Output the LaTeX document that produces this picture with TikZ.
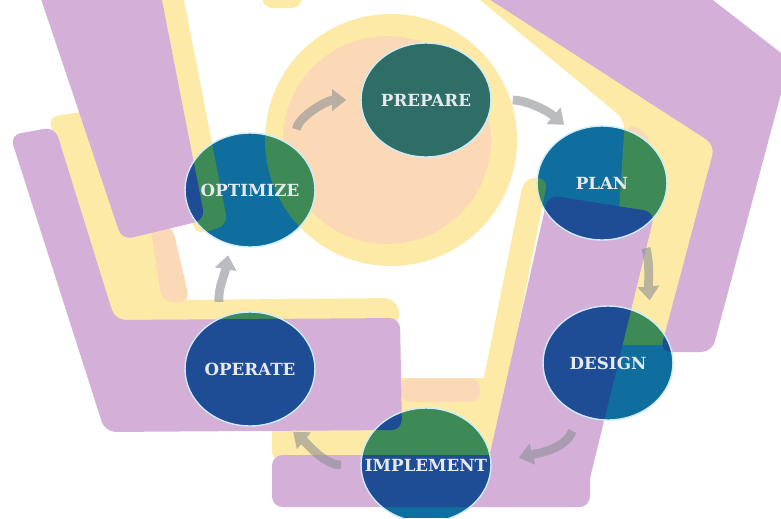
\documentclass[tikz,border=0pt]{standalone}
\usepackage{fontspec}
\newfontfamily\stagefont{DejaVu Serif}
\usetikzlibrary{shapes.geometric,arrows.meta}

\pgfdeclarelayer{bg}
\pgfdeclarelayer{tint}
\pgfsetlayers{bg,tint,main}

\definecolor{bandpurple}{HTML}{D4B0D9}
\definecolor{bandyellow}{HTML}{FDEAA6}
\definecolor{bandpeach}{HTML}{FCD9B6}
\definecolor{tintblue}{HTML}{1F4D95}
\definecolor{tintteal}{HTML}{0F6E9D}
\definecolor{tintgreen}{HTML}{3E8A57}
\definecolor{preparefill}{HTML}{2F6E67}
\definecolor{arrowgray}{HTML}{8E9096}
\definecolor{labeltext}{HTML}{E6EAEE}
\definecolor{rim}{HTML}{CDEBF8}

% Bande di sfondo: #1 giallo, #2 pesca, #3 viola
\newcommand\drawbands[3]{%
  % cerchio centrale
  \fill[#1] (391,140) circle [radius=126];
  \fill[#2] (387,140) circle [radius=104];
  \fill[#1] (262,-20) rectangle (302,8);
  % strisce gialle
  \fill[#1] (150,-10) -- (182,-10) -- (228,225) -- (195,235) -- cycle;
  \fill[#1] (48,117) -- (95,110) -- (168,240) -- (178,300) -- (395,298) -- (402,322) -- (112,322) -- cycle;
  \fill[#1] (272,378) rectangle (590,462);
  \fill[#1] (524,178) -- (548,178) -- (482,507) -- (458,507) -- cycle;
  \fill[#1] (468,-10) -- (520,-10) -- (740,140) -- (690,345) -- (610,345) -- (625,120) -- cycle;
  % accenti pesca
  \fill[#2] (150,225) -- (172,225) -- (190,302) -- (162,302) -- cycle;
  \fill[#2] (400,378) rectangle (480,402);
  \fill[#2] (628,122) -- (650,135) -- (640,240) -- (618,240) -- cycle;
  % bande viola
  \fill[#3] (38,-10) -- (160,-10) -- (205,220) -- (122,240) -- cycle;
  \fill[#3] (10,135) -- (55,127) -- (115,320) -- (400,318) -- (402,430) -- (105,432) -- cycle;
  \fill[#3] (272,455) rectangle (590,507);
  \fill[#3] (548,195) -- (655,212) -- (583,507) -- (478,507) -- cycle;
  \fill[#3] (475,-10) -- (700,-10) -- (790,60) -- (712,352) -- (660,352) -- (715,145) -- cycle;
}

\begin{document}
\begin{tikzpicture}[
    x=0.02cm, y=-0.02cm,
    % Stili
    stage/.style={ellipse, minimum width=2.6cm, minimum height=2.28cm,
      inner xsep=-18pt, inner ysep=0pt,
      draw=rim, line width=.8pt, text=labeltext,
      font=\stagefont\bfseries\fontsize{9.5}{11}\selectfont},
    flow/.style={line width=5pt, draw=arrowgray, -{Triangle[length=8pt,width=12pt]}}
  ]
  \useasboundingbox (0,0) rectangle (781,518);

  % Sfondo
  \begin{pgfonlayer}{bg}
    \fill[white] (0,0) rectangle (781,518);
    \begin{scope}[rounded corners=6pt]
      \drawbands{bandyellow}{bandpeach}{bandpurple}
    \end{scope}
  \end{pgfonlayer}

  % Nodi
  \node[stage] (prepare) at (426,100) {PREPARE};
  \node[stage] (plan) at (602,183) {PLAN};
  \node[stage] (design) at (608,363) {DESIGN};
  \node[stage] (implement) at (426,465) {IMPLEMENT};
  \node[stage] (operate) at (250,369) {OPERATE};
  \node[stage] (optimize) at (250,190) {OPTIMIZE};

  % Tinta dentro i cerchi
  \begin{pgfonlayer}{tint}
    \foreach \n in {plan,design,implement,operate,optimize}{
      \begin{scope}
        \clip (\n.center) ellipse [x radius=1.3cm, y radius=1.14cm];
        \fill[tintteal] (0,0) rectangle (781,518);
        \begin{scope}[rounded corners=6pt]
          \drawbands{tintgreen}{tintgreen}{tintblue}
        \end{scope}
      \end{scope}
    }
    \fill[preparefill] (prepare.center) ellipse [x radius=1.3cm, y radius=1.14cm];
  \end{pgfonlayer}

  % Collegamenti
  \begin{scope}[transparency group, opacity=.6]
    \draw[flow, shorten <=10pt, shorten >=8pt] (optimize.45) to[out=80,in=180] (prepare.west);
    \draw[flow, shorten <=12pt, shorten >=6pt] (prepare.east) to[out=0,in=140] (plan.120);
    \draw[flow, shorten <=11pt, shorten >=11pt] (plan.-50) to[out=-75,in=95] (design.45);
    \draw[flow, shorten <=10pt, shorten >=16pt] (design.-120) to[out=-110,in=15] (implement.east);
    \draw[flow, shorten <=11pt, shorten >=10pt] (implement.west) to[out=180,in=-40] (operate.-60);
    \draw[flow, shorten <=9pt, shorten >=6pt] (operate.120) to[out=95,in=-100] (optimize.-110);
  \end{scope}
\end{tikzpicture}
\end{document}
